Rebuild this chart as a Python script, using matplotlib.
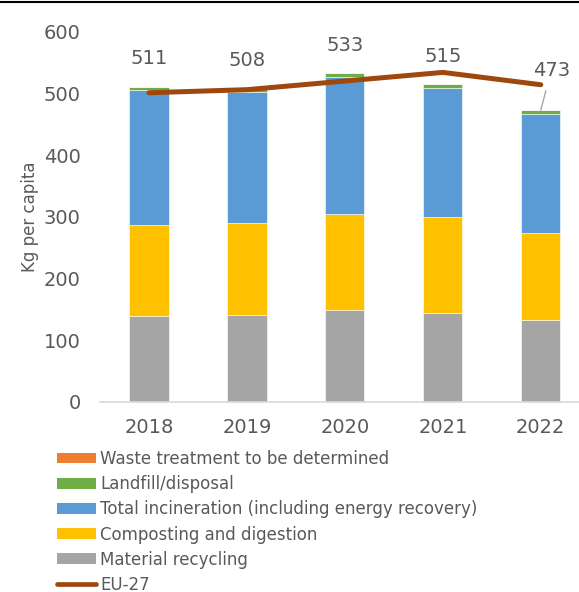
import numpy as np
import matplotlib.pyplot as plt
from matplotlib.lines import Line2D
from matplotlib.patches import Patch

years = ["2018", "2019", "2020", "2021", "2022"]
recycling = [139, 141, 148, 144, 133]
composting = [148, 148, 157, 155, 140]
incineration = [218, 214, 222, 210, 193]
landfill = [5.5, 4.5, 5.5, 5.5, 6.5]
to_be_determined = [0.5, 0.5, 0.5, 0.5, 0.5]
totals = [511, 508, 533, 515, 473]
eu27 = [501, 506, 520, 534, 514]

series = [
    ("Material recycling", recycling, "#A5A5A5"),
    ("Composting and digestion", composting, "#FFC000"),
    ("Total incineration (including energy recovery)", incineration, "#5B9BD5"),
    ("Landfill/disposal", landfill, "#70AD47"),
    ("Waste treatment to be determined", to_be_determined, "#ED7D31"),
]
line_color = "#9E480E"
text_color = "#595959"

plt.rcParams["font.family"] = ["DejaVu Sans"]

fig = plt.figure(figsize=(5.79, 5.92), dpi=100)
ax = fig.add_axes([100 / 579, 1 - 401.7 / 592, 479 / 579, 370 / 592])

x = np.arange(len(years))
bottom = np.zeros(len(years))
for name, vals, col in series:
    ax.bar(x, vals, 0.4, bottom=bottom, color=col, edgecolor="white",
           linewidth=0.4, zorder=2)
    bottom += np.array(vals)

ax.plot(x, eu27, color=line_color, linewidth=3.6, solid_capstyle="round",
        solid_joinstyle="round", zorder=3)

# total labels above the bars
for i, t in enumerate(totals):
    if i < len(years) - 1:
        ax.annotate(str(t), (x[i], t), xytext=(0, 20), textcoords="offset points",
                    ha="center", va="center", fontsize=14, color=text_color)
    else:
        ax.annotate(str(t), (x[i], t), xytext=(7.5, 28.5), textcoords="offset points",
                    ha="center", va="center", fontsize=14, color=text_color,
                    arrowprops=dict(arrowstyle="-", color="#A6A6A6", lw=1,
                                    shrinkA=6, shrinkB=0))

ax.set_ylim(0, 600)
ax.set_xlim(-0.5, 4.39)
ax.set_yticks(range(0, 601, 100))
ax.set_xticks(x)
ax.set_xticklabels(years)
ax.tick_params(axis="both", length=0, labelsize=14, colors=text_color)
ax.tick_params(axis="x", pad=12)
ax.tick_params(axis="y", pad=14)
for s in ["top", "right", "left"]:
    ax.spines[s].set_visible(False)
ax.spines["bottom"].set_color("#D9D9D9")
ax.spines["bottom"].set_linewidth(1.2)
ax.set_ylabel("Kg per capita", fontsize=12, color=text_color, labelpad=3)

handles = [Patch(facecolor=c, edgecolor="none") for _, _, c in series[::-1]]
handles.append(Line2D([0], [0], color=line_color, linewidth=3.4,
                      solid_capstyle="round"))
labels = [n for n, _, _ in series[::-1]] + ["EU-27"]
fig.legend(handles, labels, loc="upper left", bbox_to_anchor=(57 / 579, 1 - 450 / 592),
           frameon=False, fontsize=12, labelcolor=text_color, handlelength=2.35,
           handleheight=0.6, handletextpad=0.25, labelspacing=0.43,
           borderaxespad=0, borderpad=0)

fig.add_artist(Line2D([0, 1], [1 - 1.5 / 592, 1 - 1.5 / 592], color="black",
                      linewidth=1.5, transform=fig.transFigure))

fig.savefig("out.png", dpi=100)
